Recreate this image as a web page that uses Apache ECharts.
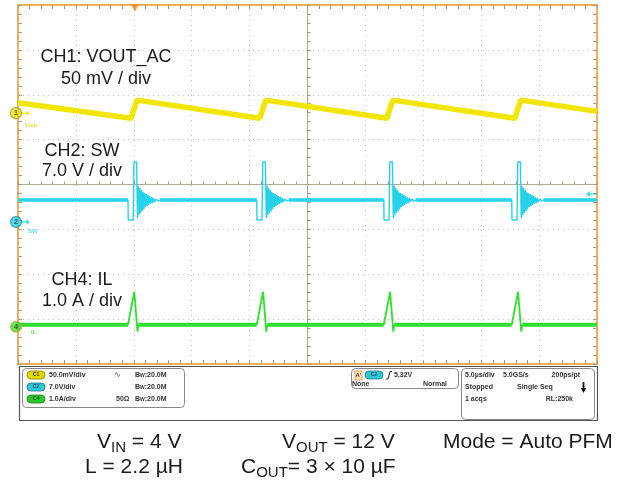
<!DOCTYPE html>
<html><head><meta charset="utf-8">
<script src="https://cdn.jsdelivr.net/npm/echarts@6/dist/echarts.min.js"></script>
<style>html,body{margin:0;padding:0;background:#fff;}#c{width:626px;height:492px;}</style>
</head><body><div id="c"></div>
<script>
// ---- axes (time in µs relative to screen centre, 5 µs/div; vertical in divisions)
const timeRange = [-25, 25];
const timeStep = 5;
const divRange = [-4, 4];

// ---- CH1: VOUT_AC (mV, 50 mV/div)
const ch1Time   = [-25, -15.24, -14.72, -4.12, -3.60, 6.85, 7.37, 17.90, 18.42, 25];
const ch1Values = [11.5, -5.6, 14.5, -5.6, 14.5, -5.6, 14.5, -5.6, 14.5, 2.0];

// ---- switching events (start of each low-side pulse), µs
const eventStarts = [-15.50, -4.38, 6.59, 17.64];

// ---- CH2: SW (V, 7 V/div)
const ch2Baseline = 3.43;
const ch2PulseDt = [0, 0.017, 0.449, 0.518, 0.743, 0.820, 0.889, 0.959, 1.028, 1.097, 1.166, 1.235,
  1.304, 1.373, 1.442, 1.511, 1.580, 1.649, 1.719, 1.788, 1.857, 1.943, 2.029, 2.116, 2.202, 2.289, 2.418, 2.591, 2.764];
const ch2PulseV = [3.43, 0.31, 0.31, 9.35, 9.35, 0.62, 5.61, 1.09, 5.30, 1.40, 4.99, 1.71,
  4.68, 2.03, 4.52, 2.34, 4.37, 2.49, 4.21, 2.65, 4.05, 2.81, 3.90, 2.96, 3.74, 3.12, 3.59, 3.27, 3.43];

// ---- CH4: IL (A, 1 A/div)
const ch4Baseline = 0.045;
const ch4PulseDt = [0, 0.086, 0.544, 0.820, 0.907];
const ch4PulseA  = [0.045, 0.045, 0.78, -0.11, 0.045];

// ---- trigger
const triggerTime = -14.9;
const triggerLevelV = 4.37;

// ---- channel vertical setup: [ground offset in divisions, units per division]
const ch1Setup = [1.59, 50];
const ch2Setup = [-0.835, 7];
const ch4Setup = [-3.17, 1];

const C1 = '#f2e600', C2 = '#25d2ea', C4 = '#2fdf2f';
const tan = '#b6a88f', tick = '#a89b84', border = '#f3ad4a';

function chAxis(setup) {
  return {type: 'value', show: false, min: (divRange[0] - setup[0]) * setup[1],
    max: (divRange[1] - setup[0]) * setup[1], axisLine: {onZero: false}};
}
function segments(starts, dts, vals, base) {
  const basePts = [], pulsePts = [];
  let t0 = timeRange[0];
  const end = dts[dts.length - 1];
  starts.forEach(s => {
    basePts.push([t0, base], [s, base], [s, '-']);
    dts.forEach((d, i) => pulsePts.push([s + d, vals[i]]));
    pulsePts.push([s + end, '-']);
    t0 = s + end;
  });
  basePts.push([t0, base], [timeRange[1], base]);
  return {basePts, pulsePts};
}
const sw = segments(eventStarts, ch2PulseDt, ch2PulseV, ch2Baseline);
const il = segments(eventStarts, ch4PulseDt, ch4PulseA, ch4Baseline);
const ch1Data = ch1Time.map((t, i) => [t, ch1Values[i]]);

const baseX = {type: 'value', min: timeRange[0], max: timeRange[1], interval: timeStep,
  axisLabel: {show: false}, splitLine: {show: false}};
const baseY = {type: 'value', min: divRange[0], max: divRange[1], interval: 1,
  axisLabel: {show: false}, splitLine: {show: false}};
const tk = (inside, len) => ({show: true, inside: inside, length: len, lineStyle: {color: tick, width: 1}});
const mtk = (len, n) => ({show: true, splitNumber: n, length: len, lineStyle: {color: tick, width: 1}});
const dotted = {show: true, lineStyle: {color: '#c4c4c4', type: [1, 4], width: 1}};

const F = "'Liberation Sans', Arial, sans-serif";
const small = 'bold 7px ' + F;

function marker(axisIdx, num, color, bcolor) {
  return {type: 'scatter', xAxisIndex: 0, yAxisIndex: axisIdx, clip: false, z: 10,
    data: [[timeRange[0], 0]], symbol: 'circle', symbolSize: 11, symbolOffset: [-2, 0],
    itemStyle: {color: color, borderColor: bcolor, borderWidth: 1.2},
    label: {show: true, position: 'inside', formatter: num, fontSize: 7, fontWeight: 'bold', color: '#333', fontFamily: F}};
}
function arrowRight(axisIdx, color) {
  return {type: 'scatter', xAxisIndex: 0, yAxisIndex: axisIdx, clip: false, z: 9,
    data: [[timeRange[0], 0]], symbol: 'path://M0,3L5,3L5,0L9,4L5,8L5,5L0,5Z',
    symbolSize: [8, 6], symbolOffset: [8, 0], itemStyle: {color: color}};
}

const option = {
  animation: false,
  backgroundColor: '#fff',
  grid: {left: 18, top: 5, width: 579, height: 359, show: true, borderColor: border, borderWidth: 2, backgroundColor: '#fff'},
  xAxis: [
    Object.assign({}, baseX, {splitLine: dotted, axisLine: {show: true, onZero: true, onZeroAxisIndex: 0, lineStyle: {color: tan, width: 1}},
      axisTick: tk(true, 3), minorTick: mtk(3, 5)}),
    Object.assign({}, baseX, {axisLine: {show: true, onZero: true, onZeroAxisIndex: 0, lineStyle: {color: tan, width: 1}},
      axisTick: tk(false, 3), minorTick: mtk(3, 5)}),
    Object.assign({}, baseX, {position: 'top', axisLine: {show: false, onZero: false}, axisTick: tk(true, 4), minorTick: mtk(4, 5)}),
    Object.assign({}, baseX, {position: 'bottom', axisLine: {show: false, onZero: false}, axisTick: tk(true, 4), minorTick: mtk(4, 5)})
  ],
  yAxis: [
    Object.assign({}, baseY, {splitLine: dotted, axisLine: {show: true, onZero: true, onZeroAxisIndex: 0, lineStyle: {color: tan, width: 1}},
      axisTick: tk(true, 3), minorTick: mtk(3, 5)}),
    Object.assign({}, baseY, {axisLine: {show: true, onZero: true, onZeroAxisIndex: 0, lineStyle: {color: tan, width: 1}},
      axisTick: tk(false, 3), minorTick: mtk(3, 5)}),
    Object.assign({}, baseY, {position: 'left', axisLine: {show: false, onZero: false}, axisTick: tk(true, 4), minorTick: mtk(4, 5)}),
    Object.assign({}, baseY, {position: 'right', axisLine: {show: false, onZero: false}, axisTick: tk(true, 4), minorTick: mtk(4, 5)}),
    chAxis(ch1Setup), chAxis(ch2Setup), chAxis(ch4Setup)
  ],
  series: [
    {type: 'line', name: 'CH1', xAxisIndex: 0, yAxisIndex: 4, data: ch1Data, showSymbol: false, symbol: 'none',
      lineStyle: {color: C1, width: 5.5}, z: 3},
    {type: 'line', name: 'CH2 base', xAxisIndex: 0, yAxisIndex: 5, data: sw.basePts, showSymbol: false, symbol: 'none',
      connectNulls: false, lineStyle: {color: C2, width: 3.5}, z: 3},
    {type: 'line', name: 'CH2 pulse', xAxisIndex: 0, yAxisIndex: 5, data: sw.pulsePts, showSymbol: false, symbol: 'none',
      connectNulls: false, lineStyle: {color: C2, width: 1.4}, z: 3},
    {type: 'line', name: 'CH4 base', xAxisIndex: 0, yAxisIndex: 6, data: il.basePts, showSymbol: false, symbol: 'none',
      connectNulls: false, lineStyle: {color: C4, width: 4}, z: 3},
    {type: 'line', name: 'CH4 pulse', xAxisIndex: 0, yAxisIndex: 6, data: il.pulsePts, showSymbol: false, symbol: 'none',
      connectNulls: false, lineStyle: {color: C4, width: 1.8}, z: 3},
    marker(4, '1', C1, '#a59a3a'),
    marker(5, '2', C2, '#3a8a9a'),
    marker(6, '4', C4, '#f0a030'),
    arrowRight(4, C1),
    arrowRight(5, C2),
    {type: 'scatter', xAxisIndex: 0, yAxisIndex: 0, clip: false, z: 10, data: [[triggerTime, divRange[1]]],
      symbol: 'triangle', symbolRotate: 180, symbolSize: [8, 7], symbolOffset: [0, 3], itemStyle: {color: '#f08a1c'}},
    {type: 'scatter', xAxisIndex: 0, yAxisIndex: 5, clip: false, z: 10, data: [[timeRange[1], triggerLevelV]],
      symbol: 'path://M0,4L5,0L5,3L12,3L12,5L5,5L5,8Z', symbolSize: [11, 6], symbolOffset: [-6, 0], itemStyle: {color: C2}}
  ],
  graphic: [
    // annotations
    {type: 'text', z: 20, style: {x: 106, y: 57, text: 'CH1: VOUT_AC', font: '18px ' + F, fill: '#1a1a1a', textAlign: 'center', textVerticalAlign: 'middle'}},
    {type: 'text', z: 20, style: {x: 106, y: 79, text: '50 mV / div', font: '18px ' + F, fill: '#1a1a1a', textAlign: 'center', textVerticalAlign: 'middle'}},
    {type: 'text', z: 20, style: {x: 82, y: 151, text: 'CH2: SW', font: '18px ' + F, fill: '#1a1a1a', textAlign: 'center', textVerticalAlign: 'middle'}},
    {type: 'text', z: 20, style: {x: 82, y: 171, text: '7.0 V / div', font: '18px ' + F, fill: '#1a1a1a', textAlign: 'center', textVerticalAlign: 'middle'}},
    {type: 'text', z: 20, style: {x: 82, y: 280, text: 'CH4: IL', font: '18px ' + F, fill: '#1a1a1a', textAlign: 'center', textVerticalAlign: 'middle'}},
    {type: 'text', z: 20, style: {x: 82, y: 301, text: '1.0 A / div', font: '18px ' + F, fill: '#1a1a1a', textAlign: 'center', textVerticalAlign: 'middle'}},
    {type: 'text', z: 20, style: {x: 25, y: 125, text: 'Vout', font: '6px ' + F, fill: '#e0cf00', textVerticalAlign: 'middle'}},
    {type: 'text', z: 20, style: {x: 28, y: 231, text: 'SW', font: '6px ' + F, fill: C2, textVerticalAlign: 'middle'}},
    {type: 'text', z: 20, style: {x: 31, y: 332, text: 'IL', font: '6px ' + F, fill: C4, textVerticalAlign: 'middle'}},
    // status panel
    {type: 'rect', z: 15, shape: {x: 19.5, y: 366.5, width: 578, height: 54}, style: {fill: '#fff', stroke: '#555', lineWidth: 1.2}},
    {type: 'rect', z: 16, shape: {x: 22.5, y: 368.5, width: 162, height: 39, r: 4}, style: {fill: '#fff', stroke: '#888', lineWidth: 1}},
    {type: 'rect', z: 16, shape: {x: 351.5, y: 368.5, width: 107, height: 20, r: 4}, style: {fill: '#fff', stroke: '#888', lineWidth: 1}},
    {type: 'rect', z: 16, shape: {x: 461.5, y: 368.5, width: 133, height: 51, r: 4}, style: {fill: '#fff', stroke: '#888', lineWidth: 1}},
    // channel pills
    {type: 'rect', z: 17, shape: {x: 27, y: 371, width: 18, height: 8, r: 4}, style: {fill: '#e2d800', stroke: '#8a8400', lineWidth: 0.8}},
    {type: 'rect', z: 17, shape: {x: 27, y: 383, width: 18, height: 8, r: 4}, style: {fill: '#2bc6d8', stroke: '#207c88', lineWidth: 0.8}},
    {type: 'rect', z: 17, shape: {x: 27, y: 395, width: 18, height: 8, r: 4}, style: {fill: '#2bc82b', stroke: '#1f7a1f', lineWidth: 0.8}},
    {type: 'text', z: 18, style: {x: 36, y: 375, text: 'C1', font: 'bold 5px ' + F, fill: '#333', textAlign: 'center', textVerticalAlign: 'middle'}},
    {type: 'text', z: 18, style: {x: 36, y: 387, text: 'C2', font: 'bold 5px ' + F, fill: '#1c4e57', textAlign: 'center', textVerticalAlign: 'middle'}},
    {type: 'text', z: 18, style: {x: 36, y: 399, text: 'C4', font: 'bold 5px ' + F, fill: '#1a4f1a', textAlign: 'center', textVerticalAlign: 'middle'}},
    {type: 'text', z: 18, style: {x: 49, y: 375, text: '50.0mV/div', font: small, fill: '#333', textVerticalAlign: 'middle'}},
    {type: 'text', z: 18, style: {x: 49, y: 387, text: '7.0V/div', font: small, fill: '#333', textVerticalAlign: 'middle'}},
    {type: 'text', z: 18, style: {x: 49, y: 399, text: '1.0A/div', font: small, fill: '#333', textVerticalAlign: 'middle'}},
    {type: 'text', z: 18, style: {x: 114, y: 375, text: '∿', font: '8px DejaVu Sans', fill: '#444', textVerticalAlign: 'middle'}},
    {type: 'text', z: 18, style: {x: 116, y: 399, text: '50Ω', font: small, fill: '#333', textVerticalAlign: 'middle'}},
    {type: 'text', z: 18, style: {x: 135, y: 375, text: '{b|B}{w|W}{b|:20.0M}', fill: '#333', textVerticalAlign: 'middle',
      rich: {b: {font: small, fill: '#333'}, w: {font: 'bold 5px ' + F, fill: '#333', verticalAlign: 'bottom'}}}},
    {type: 'text', z: 18, style: {x: 135, y: 387, text: '{b|B}{w|W}{b|:20.0M}', fill: '#333', textVerticalAlign: 'middle',
      rich: {b: {font: small, fill: '#333'}, w: {font: 'bold 5px ' + F, fill: '#333', verticalAlign: 'bottom'}}}},
    {type: 'text', z: 18, style: {x: 135, y: 399, text: '{b|B}{w|W}{b|:20.0M}', fill: '#333', textVerticalAlign: 'middle',
      rich: {b: {font: small, fill: '#333'}, w: {font: 'bold 5px ' + F, fill: '#333', verticalAlign: 'bottom'}}}},
    // trigger box
    {type: 'rect', z: 17, shape: {x: 355, y: 371, width: 7, height: 9}, style: {fill: '#fbe3bd', stroke: '#e8962a', lineWidth: 0.8}},
    {type: 'text', z: 18, style: {x: 358.5, y: 375.5, text: "A'", font: 'bold 6px ' + F, fill: '#333', textAlign: 'center', textVerticalAlign: 'middle'}},
    {type: 'rect', z: 17, shape: {x: 365, y: 371, width: 18, height: 8, r: 4}, style: {fill: '#2bc6d8', stroke: '#207c88', lineWidth: 0.8}},
    {type: 'text', z: 18, style: {x: 374, y: 375, text: 'C2', font: 'bold 5px ' + F, fill: '#1c4e57', textAlign: 'center', textVerticalAlign: 'middle'}},
    {type: 'polyline', z: 18, shape: {points: [[386, 379], [388, 379], [390, 371.5], [392, 371.5]]}, style: {stroke: '#222', lineWidth: 1, fill: null}},
    {type: 'text', z: 18, style: {x: 394, y: 375, text: '5.32V', font: small, fill: '#333', textVerticalAlign: 'middle'}},
    {type: 'text', z: 18, style: {x: 352, y: 384, text: 'None', font: small, fill: '#333', textVerticalAlign: 'middle'}},
    {type: 'text', z: 18, style: {x: 447, y: 384, text: 'Normal', font: small, fill: '#333', textAlign: 'right', textVerticalAlign: 'middle'}},
    // timebase box
    {type: 'text', z: 18, style: {x: 465, y: 375, text: '5.0µs/div', font: small, fill: '#333', textVerticalAlign: 'middle'}},
    {type: 'text', z: 18, style: {x: 503, y: 375, text: '5.0GS/s', font: small, fill: '#333', textVerticalAlign: 'middle'}},
    {type: 'text', z: 18, style: {x: 580, y: 375, text: '200ps/pt', font: small, fill: '#333', textAlign: 'right', textVerticalAlign: 'middle'}},
    {type: 'text', z: 18, style: {x: 465, y: 387, text: 'Stopped', font: small, fill: '#333', textVerticalAlign: 'middle'}},
    {type: 'text', z: 18, style: {x: 517, y: 387, text: 'Single Seq', font: small, fill: '#333', textVerticalAlign: 'middle'}},
    {type: 'rect', z: 18, shape: {x: 582.6, y: 382, width: 1.8, height: 7}, style: {fill: '#111'}},
    {type: 'polygon', z: 18, shape: {points: [[580.8, 388], [586.2, 388], [583.5, 393]]}, style: {fill: '#111'}},
    {type: 'text', z: 18, style: {x: 465, y: 399, text: '1 acqs', font: small, fill: '#333', textVerticalAlign: 'middle'}},
    {type: 'text', z: 18, style: {x: 573, y: 399, text: 'RL:250k', font: small, fill: '#333', textAlign: 'right', textVerticalAlign: 'middle'}},
    // conditions
    {type: 'text', z: 20, style: {x: 97, y: 442, text: '{m|V}{s|IN}{m| = 4 V}', fill: '#1a1a1a', textVerticalAlign: 'middle',
      rich: {m: {font: '21px ' + F, fill: '#1a1a1a', lineHeight: 26}, s: {font: '15px ' + F, fill: '#1a1a1a', lineHeight: 15, verticalAlign: 'bottom'}}}},
    {type: 'text', z: 20, style: {x: 282, y: 442, text: '{m|V}{s|OUT}{m| = 12 V}', fill: '#1a1a1a', textVerticalAlign: 'middle',
      rich: {m: {font: '21px ' + F, fill: '#1a1a1a', lineHeight: 26}, s: {font: '15px ' + F, fill: '#1a1a1a', lineHeight: 15, verticalAlign: 'bottom'}}}},
    {type: 'text', z: 20, style: {x: 443, y: 442, text: 'Mode = Auto PFM', font: '21px ' + F, fill: '#1a1a1a', textVerticalAlign: 'middle'}},
    {type: 'text', z: 20, style: {x: 85, y: 467, text: 'L = 2.2 µH', font: '21px ' + F, fill: '#1a1a1a', textVerticalAlign: 'middle'}},
    {type: 'text', z: 20, style: {x: 241, y: 467, text: '{m|C}{s|OUT}{m|= 3 × 10 µF}', fill: '#1a1a1a', textVerticalAlign: 'middle',
      rich: {m: {font: '21px ' + F, fill: '#1a1a1a', lineHeight: 26}, s: {font: '15px ' + F, fill: '#1a1a1a', lineHeight: 15, verticalAlign: 'bottom'}}}}
  ]
};
const chart = echarts.init(document.getElementById('c'), null, {renderer: 'canvas'});
chart.setOption(option);
</script>
</body></html>
